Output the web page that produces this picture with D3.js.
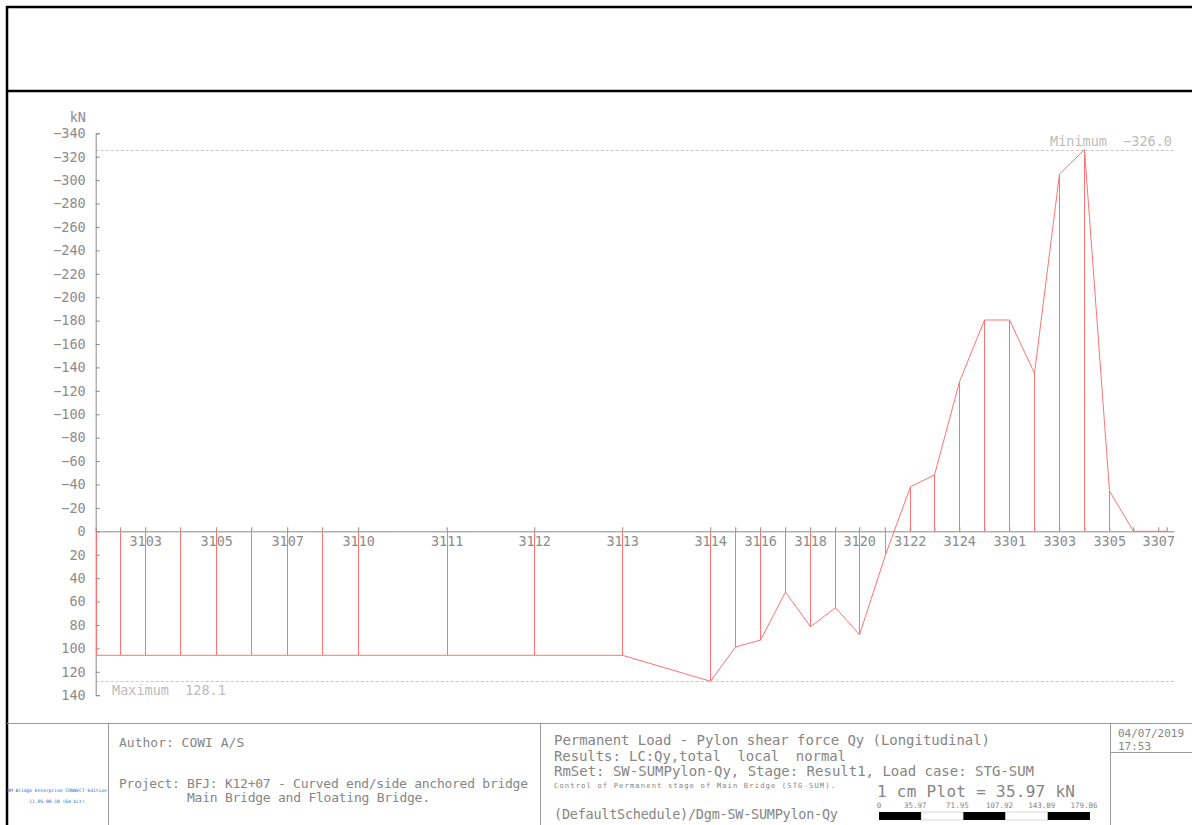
<!DOCTYPE html>
<html>
<head>
<meta charset="utf-8">
<script src="https://cdn.jsdelivr.net/npm/d3@7"></script>
<style>
  html, body { margin: 0; padding: 0; background: #fff; }
  svg { display: block; }
  text { font-family: "DejaVu Sans Mono", "Liberation Mono", monospace; }
</style>
</head>
<body>
<svg id="sheet" width="1192" height="825"></svg>
<script>
// Pylon nodes along the bridge (element ends), station in metres
const nodeIds = ["3101","3102","3103","3104","3105","3106","3107","3108","3110","3111",
                 "3112","3113","3114","3115","3116","3117","3118","3119","3120","3121",
                 "3122","3123","3124","3300","3301","3302","3303","3304","3305","3306",
                 "3307","3308"];
const stations = [0, 9.8, 19.8, 33.8, 48.2, 62.2, 76.6, 90.6, 105.0, 140.4,
                  175.4, 210.6, 245.8, 255.8, 265.8, 275.8, 285.8, 295.8, 305.4, 315.6,
                  325.6, 335.4, 345.4, 355.4, 365.4, 375.4, 385.4, 395.4, 405.4, 415.0,
                  425.0, 428.4];
// Shear force Qy (kN) at each node, permanent load STG-SUM
const shearQy = [105.9, 105.9, 105.9, 105.9, 105.9, 105.9, 105.9, 105.9, 105.9, 105.9,
                 105.9, 105.9, 128.1, 98.8, 92.9, 51.9, 81.5, 65.2, 88.3, 20.0,
                 -38.1, -48.1, -127.8, -180.5, -180.5, -135.0, -305.2, -326.0, -34.4, 0,
                 0, 0];
// Nodes that carry a label on the member axis
const labelledNodes = ["3103","3105","3107","3110","3111","3112","3113","3114","3116","3118",
                       "3120","3122","3124","3301","3303","3305","3307"];
const yTicks = d3.range(-340, 141, 20);
const axisEndStation = 431.3;
const scaleBarTicks = [0, 35.97, 71.95, 107.92, 143.89, 179.86];

const svg = d3.select("#sheet");
const GRAY = "#8c8c8c";
const AXIS = "#8a8a8a";
const LIGHT = "#bcbcbc";
const RED = "#ff7373";
const TEXT = "#858585";

// ---------- drawing sheet frame ----------
const frame = svg.append("g");
frame.append("line").attr("x1", 6).attr("x2", 1192).attr("y1", 7).attr("y2", 7)
  .attr("stroke", "#000").attr("stroke-width", 2.5);
frame.append("line").attr("x1", 7).attr("x2", 7).attr("y1", 6).attr("y2", 825)
  .attr("stroke", "#000").attr("stroke-width", 2.5);
frame.append("line").attr("x1", 7).attr("x2", 1192).attr("y1", 91).attr("y2", 91)
  .attr("stroke", "#000").attr("stroke-width", 2.5);
frame.append("line").attr("x1", 7).attr("x2", 1192).attr("y1", 723.5).attr("y2", 723.5)
  .attr("stroke", "#999").attr("stroke-width", 1);
[108.5, 540.5, 1110.5].forEach(x => {
  frame.append("line").attr("x1", x).attr("x2", x).attr("y1", 723.5).attr("y2", 825)
    .attr("stroke", "#999").attr("stroke-width", 1);
});
frame.append("line").attr("x1", 1110.5).attr("x2", 1192).attr("y1", 752.5).attr("y2", 752.5)
  .attr("stroke", "#999").attr("stroke-width", 1);

// ---------- scales ----------
const x = d3.scaleLinear().domain([0, axisEndStation]).range([95.7, 1174]);
const y = d3.scaleLinear().domain([-340, 140]).range([133.3, 695.2]);

const nodes = nodeIds.map((id, i) => ({ id, s: stations[i], v: shearQy[i] }));
const fmtSigned = f => s => d3.format(f)(s).replace("-", "\u2212");

// ---------- extreme value guide lines ----------
const minNode = nodes.reduce((a, b) => (b.v < a.v ? b : a));
const maxNode = nodes.reduce((a, b) => (b.v > a.v ? b : a));
const guides = svg.append("g");
[minNode.v, maxNode.v].forEach(v => {
  guides.append("line")
    .attr("x1", x(0)).attr("x2", x(axisEndStation))
    .attr("y1", Math.round(y(v)) + 0.5).attr("y2", Math.round(y(v)) + 0.5)
    .attr("stroke", "#c8c8c8").attr("stroke-width", 1)
    .attr("stroke-dasharray", "3,2");
});
guides.append("text")
  .attr("x", 1172).attr("y", 146).attr("text-anchor", "end")
  .attr("font-size", 13.5).attr("fill", LIGHT)
  .attr("xml:space", "preserve")
  .text("Minimum  " + fmtSigned(".1f")(minNode.v));
guides.append("text")
  .attr("x", 112).attr("y", 695)
  .attr("font-size", 13.5).attr("fill", LIGHT)
  .attr("xml:space", "preserve")
  .text("Maximum  " + fmtSigned(".1f")(maxNode.v));

// ---------- value axis (kN) ----------
const yAxis = d3.axisLeft(y)
  .tickValues(yTicks)
  .tickSizeInner(-4)
  .tickSizeOuter(-4)
  .tickPadding(10)
  .tickFormat(d => String(Math.abs(d)) === String(d) ? String(d) : "\u2212" + Math.abs(d));
const gy = svg.append("g").attr("transform", "translate(95.7,0)").call(yAxis);
gy.select(".domain").attr("stroke", AXIS);
gy.selectAll(".tick line").attr("stroke", AXIS);
gy.selectAll(".tick text")
  .attr("font-family", "DejaVu Sans Mono, monospace")
  .attr("font-size", 13.5).attr("fill", GRAY);
svg.append("text").attr("x", 86).attr("y", 122).attr("text-anchor", "end")
  .attr("font-size", 13.5).attr("fill", GRAY).text("kN");

// ---------- member axis with node ticks ----------
const labelSet = new Set(labelledNodes);
const xAxis = d3.axisBottom(x)
  .tickValues(stations)
  .tickSizeInner(-4)
  .tickSizeOuter(0)
  .tickPadding(5)
  .tickFormat((d, i) => (labelSet.has(nodeIds[i]) ? nodeIds[i] : ""));
const gx = svg.append("g").attr("transform", `translate(0,${y(0)})`).call(xAxis);
gx.select(".domain").attr("stroke", AXIS);
gx.selectAll(".tick line").attr("stroke", AXIS);
gx.selectAll(".tick text")
  .attr("font-family", "DejaVu Sans Mono, monospace")
  .attr("font-size", 13.5).attr("fill", GRAY);

// ---------- shear force diagram ----------
const diagram = svg.append("g");
diagram.selectAll("line.ord")
  .data(nodes)
  .join("line")
  .attr("class", "ord")
  .attr("x1", d => Math.round(x(d.s)) + 0.5).attr("x2", d => Math.round(x(d.s)) + 0.5)
  .attr("y1", y(0)).attr("y2", d => y(d.v))
  .attr("stroke", RED).attr("stroke-width", 1);
diagram.append("path")
  .datum(nodes)
  .attr("fill", "none")
  .attr("stroke", RED)
  .attr("stroke-width", 1)
  .attr("d", d3.line().x(d => Math.round(x(d.s)) + 0.5).y(d => y(d.v)));

// ---------- title block ----------
const tb = svg.append("g").attr("fill", TEXT);
const tline = (xx, yy, size, str, extra) => {
  const t = tb.append("text").attr("x", xx).attr("y", yy)
    .attr("font-size", size).attr("xml:space", "preserve").text(str);
  if (extra) extra(t);
  return t;
};
tline(57, 792, 4.6, "RM Bridge Enterprise CONNECT Edition", t => t
  .attr("text-anchor", "middle").attr("fill", "#2a5fd0")
  .attr("font-family", "DejaVu Sans, sans-serif"));
tline(57, 803, 4.6, "11.05.00.10 (64 bit)", t => t
  .attr("text-anchor", "middle").attr("fill", "#2a5fd0")
  .attr("font-family", "DejaVu Sans, sans-serif"));

tline(119, 747, 13, "Author: COWI A/S");
tline(119, 788, 13, "Project: BFJ: K12+07 - Curved end/side anchored bridge", t => t.attr("textLength", 409));
tline(187, 802, 13, "Main Bridge and Floating Bridge.", t => t.attr("textLength", 243));

tline(554, 745, 14, "Permanent Load - Pylon shear force Qy (Longitudinal)", t => t.attr("textLength", 436));
tline(554, 761, 14, "Results: LC:Qy,total  local  normal", t => t.attr("textLength", 292));
tline(554, 776, 14, "RmSet: SW-SUMPylon-Qy, Stage: Result1, Load case: STG-SUM", t => t.attr("textLength", 480));
tline(554, 788, 7.2, "Control of Permanent stage of Main Bridge (STG-SUM).", t => t
  .attr("font-family", "DejaVu Sans, sans-serif").attr("textLength", 281));
tline(554, 819, 13.5, "(DefaultSchedule)/Dgm-SW-SUMPylon-Qy", t => t.attr("textLength", 284));
tline(877, 797, 16, "1 cm Plot = 35.97 kN", t => t.attr("textLength", 198));

tline(1118, 737, 11, "04/07/2019", t => t.attr("textLength", 66));
tline(1118, 750, 11, "17:53", t => t.attr("textLength", 33));

// plot scale bar
const sb = d3.scaleLinear().domain([0, 179.86]).range([879, 1090]);
const bar = svg.append("g");
d3.pairs(scaleBarTicks).forEach(([a, b], i) => {
  bar.append("rect")
    .attr("x", sb(a)).attr("y", 812)
    .attr("width", sb(b) - sb(a)).attr("height", 8)
    .attr("fill", i % 2 === 0 ? "#000" : "#fff")
    .attr("stroke", i % 2 === 0 ? "none" : "#bbb").attr("stroke-width", 0.6);
});
bar.selectAll("text")
  .data(scaleBarTicks)
  .join("text")
  .attr("x", (d, i) => sb(d) - (i === 0 ? 0 : 6))
  .attr("y", 808)
  .attr("text-anchor", "middle")
  .attr("font-size", 7.5).attr("fill", TEXT)
  .text(d => (d === 0 ? "0" : d3.format(".2f")(d)));
</script>
</body>
</html>
